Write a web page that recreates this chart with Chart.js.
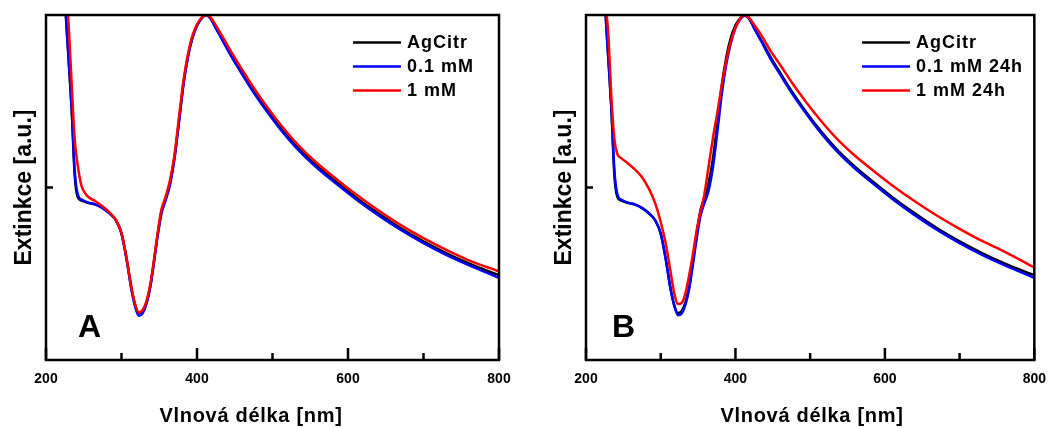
<!DOCTYPE html>
<html lang="cs">
<head>
<meta charset="utf-8">
<title>Extinkce</title>
<script src="https://cdn.jsdelivr.net/npm/chart.js@4.4.1/dist/chart.umd.min.js"></script>
<style>
  html, body { margin: 0; padding: 0; background: #fff; overflow: hidden; }
  #wrap { position: relative; width: 1057px; height: 428px; }
  #chartA { position: absolute; left: 0; top: 0; }
  #chartB { position: absolute; left: 540px; top: 0; }
</style>
</head>
<body>
<div id="wrap">
  <canvas id="chartA" width="528" height="428"></canvas>
  <canvas id="chartB" width="517" height="428"></canvas>
</div>
<script>
// vlnove delky [nm], spolecne pro vsechny krivky
const wavelengths = [220, 225, 230, 234, 238, 242, 247, 255, 265, 275, 285, 293, 300, 307, 313, 318, 323, 328, 333, 338,
  343, 348, 353, 358, 364, 370, 376, 382, 388, 394, 400, 406, 412, 418, 425, 435, 447, 460, 475, 490,
  510, 535, 560, 585, 610, 640, 670, 700, 730, 760, 800];

// extinkce (normovano na maximum)
const agCitr = [1.35, 1.055, 0.87, 0.725, 0.535, 0.472, 0.462, 0.456, 0.451, 0.441, 0.424, 0.404, 0.367, 0.29, 0.21, 0.16, 0.136, 0.142, 0.166, 0.212,
  0.285, 0.365, 0.432, 0.466, 0.512, 0.585, 0.69, 0.80, 0.88, 0.935, 0.97, 0.99, 1.0, 0.99, 0.963, 0.925, 0.878, 0.832, 0.78, 0.733,
  0.675, 0.612, 0.56, 0.515, 0.472, 0.425, 0.382, 0.344, 0.31, 0.28, 0.246];

const mM01 = [1.35, 1.055, 0.87, 0.73, 0.55, 0.48, 0.465, 0.457, 0.451, 0.44, 0.423, 0.403, 0.366, 0.288, 0.206, 0.155, 0.128, 0.135, 0.162, 0.21,
  0.283, 0.362, 0.425, 0.46, 0.505, 0.58, 0.687, 0.797, 0.878, 0.934, 0.969, 0.99, 1.0, 0.99, 0.961, 0.921, 0.874, 0.827, 0.775, 0.728,
  0.67, 0.607, 0.555, 0.51, 0.467, 0.42, 0.377, 0.339, 0.305, 0.275, 0.238];

const mM1 = [1.45, 1.15, 0.97, 0.80, 0.64, 0.565, 0.505, 0.475, 0.461, 0.445, 0.426, 0.405, 0.368, 0.292, 0.212, 0.162, 0.138, 0.145, 0.17, 0.218,
  0.29, 0.37, 0.437, 0.47, 0.518, 0.592, 0.70, 0.808, 0.886, 0.94, 0.973, 0.992, 1.0, 0.993, 0.97, 0.933, 0.887, 0.841, 0.789, 0.742,
  0.684, 0.621, 0.569, 0.524, 0.481, 0.434, 0.391, 0.353, 0.319, 0.289, 0.257];

const mM01h24 = [1.35, 1.055, 0.87, 0.73, 0.55, 0.48, 0.465, 0.457, 0.451, 0.44, 0.423, 0.403, 0.366, 0.288, 0.207, 0.158, 0.13, 0.135, 0.16, 0.205,
  0.275, 0.35, 0.415, 0.452, 0.49, 0.56, 0.665, 0.775, 0.86, 0.92, 0.962, 0.986, 0.998, 0.992, 0.962, 0.922, 0.873, 0.827, 0.775, 0.728,
  0.67, 0.607, 0.555, 0.51, 0.467, 0.42, 0.377, 0.339, 0.305, 0.275, 0.238];

const mM1h24 = [1.4, 1.08, 0.94, 0.76, 0.64, 0.597, 0.585, 0.572, 0.553, 0.53, 0.493, 0.452, 0.40, 0.335, 0.258, 0.195, 0.162, 0.165, 0.193, 0.245,
  0.305, 0.375, 0.428, 0.475, 0.56, 0.645, 0.72, 0.80, 0.87, 0.925, 0.963, 0.988, 1.0, 0.993, 0.972, 0.94, 0.896, 0.855, 0.806, 0.761,
  0.705, 0.643, 0.592, 0.548, 0.506, 0.46, 0.418, 0.38, 0.345, 0.314, 0.268];

const labelsA = ["AgCitr", "0.1 mM", "1 mM"];
const labelsB = ["AgCitr", "0.1 mM 24h", "1 mM 24h"];
const xTicks = [200, 400, 600, 800];
const xTitle = "Vlnová délka [nm]";
const yTitle = "Extinkce [a.u.]";

const FONT = "'Liberation Sans', Arial, sans-serif";
Chart.defaults.font.family = FONT;
Chart.defaults.color = "#000";

// ramecek, vnitrni carky os, pismeno panelu, popis osy x a legenda
const panelPlugin = {
  id: "panel",
  afterDatasetsDraw(chart, args, opts) {
    const { ctx, chartArea: a, scales } = chart;
    ctx.save();
    ctx.strokeStyle = "#000";
    ctx.lineWidth = 2.5;
    ctx.strokeRect(a.left, a.top, a.right - a.left, a.bottom - a.top);

    scales.x.ticks.forEach(t => {
      const px = scales.x.getPixelForValue(t.value);
      const len = t.value % 200 === 0 ? 12 : 7;
      ctx.beginPath();
      ctx.moveTo(px, a.bottom);
      ctx.lineTo(px, a.bottom - len);
      ctx.stroke();
    });
    scales.y.ticks.forEach(t => {
      if (t.value <= 0 || t.value >= 1) return;
      const py = scales.y.getPixelForValue(t.value);
      ctx.beginPath();
      ctx.moveTo(a.left, py);
      ctx.lineTo(a.left + 7, py);
      ctx.stroke();
    });

    ctx.fillStyle = "#000";
    ctx.font = "bold 32px " + FONT;
    ctx.textAlign = "left";
    ctx.textBaseline = "alphabetic";
    ctx.fillText(opts.letter, a.left + opts.letterDx, a.bottom - 23);

    ctx.font = "bold 20px " + FONT;
    ctx.letterSpacing = "0.7px";
    ctx.textAlign = "center";
    ctx.textBaseline = "middle";
    ctx.fillText(xTitle, opts.titleX, 416);

    // legenda
    ctx.font = "bold 18px " + FONT;
    ctx.textAlign = "left";
    ctx.letterSpacing = "1px";
    chart.data.datasets.forEach((ds, i) => {
      const y = 42.5 + i * 24;
      ctx.strokeStyle = ds.borderColor;
      ctx.lineWidth = 2.5;
      ctx.beginPath();
      ctx.moveTo(opts.legendX, y);
      ctx.lineTo(opts.legendX + 48, y);
      ctx.stroke();
      ctx.fillText(ds.label, opts.legendX + 54, y + 1);
    });
    ctx.restore();
  }
};

function makeDataset(label, values, color, order) {
  return {
    label: label,
    data: wavelengths.map((w, i) => ({ x: w, y: values[i] })),
    borderColor: color,
    borderWidth: 2.5,
    pointRadius: 0,
    fill: false,
    cubicInterpolationMode: "monotone",
    order: order
  };
}

function createPanel(id, labels, series, opts) {
  const colors = ["#000000", "#0000ff", "#ff0000"];
  new Chart(document.getElementById(id), {
    type: "line",
    data: {
      datasets: series.map((s, i) => makeDataset(labels[i], s, colors[i], 3 - i))
    },
    options: {
      responsive: false,
      animation: false,
      events: [],
      layout: { padding: { top: 15, right: opts.padRight, bottom: 0, left: 0 } },
      plugins: {
        legend: { display: false },
        tooltip: { enabled: false },
        panel: opts
      },
      scales: {
        x: {
          type: "linear",
          min: 200,
          max: 800,
          afterFit: s => { s.height = 68; },
          grid: { display: false, drawTicks: false },
          border: { display: false },
          ticks: {
            stepSize: 100,
            autoSkip: false,
            maxRotation: 0,
            padding: 11,
            font: { size: 14, weight: "bold" },
            callback: v => xTicks.includes(v) ? v : ""
          }
        },
        y: {
          min: 0,
          max: 1,
          afterFit: s => { s.width = 46; },
          grid: { display: false, drawTicks: false },
          border: { display: false },
          ticks: { stepSize: 0.5, display: false },
          title: {
            display: true,
            text: yTitle,
            font: { size: 23, weight: "bold" },
            padding: { top: 11, bottom: 0 }
          }
        }
      }
    },
    plugins: [panelPlugin]
  });
}

createPanel("chartA", labelsA, [agCitr, mM01, mM1],
  { letter: "A", letterDx: 32, titleX: 251, legendX: 353, padRight: 29 });
createPanel("chartB", labelsB, [agCitr, mM01h24, mM1h24],
  { letter: "B", letterDx: 26, titleX: 272, legendX: 322, padRight: 16 });
</script>
</body>
</html>
